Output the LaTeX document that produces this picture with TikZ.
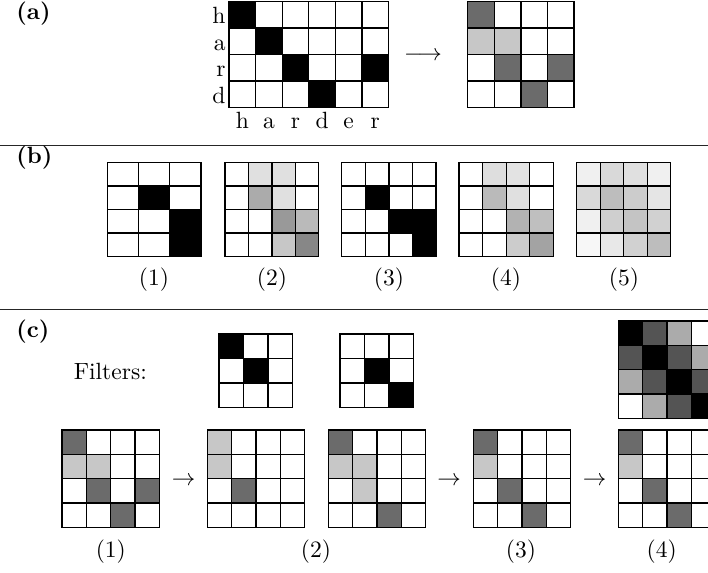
\documentclass[tikz,border=0pt]{standalone}
\colorlet{cw}{white}
\colorlet{cb}{black}
\colorlet{cd}{black!58}
\colorlet{cl}{black!22}
\newcommand\cellgrid[7]{%
  % #1 name, #2 x, #3 y, #4 ncols, #5 cell width, #6 cell height, #7 fills (row-major)
  \coordinate (#1) at (#2,#3);
  \foreach \cc [count=\ii from 0] in {#7} {%
    \pgfmathtruncatemacro\rr{div(\ii,#4)}%
    \pgfmathtruncatemacro\kk{mod(\ii,#4)}%
    \path[cellline, fill=\cc] ({#2+\kk*#5},{#3+\rr*#6}) rectangle ++(#5,#6);
  }%
}
\begin{document}
\begin{tikzpicture}[x=0.4255pt,y=-0.4255pt,
  every node/.style={font=\fontsize{10}{12}\selectfont, inner sep=0pt},
  cellline/.style={draw=black, line width=0.55pt},
  rule/.style={draw=black!85, line width=0.42pt},
  panel/.style={font=\fontsize{10}{12}\selectfont\bfseries, anchor=west}]
\useasboundingbox (0,0) rectangle (708,572);
\clip (0,0) rectangle (708,572);

% ---------------- (a)
\node[panel] (pa) at (16,13.5) {(a)};
\cellgrid{ga}{229}{1.3}{6}{26.6}{26.6}{cb,cw,cw,cw,cw,cw, cw,cb,cw,cw,cw,cw, cw,cw,cb,cw,cw,cb, cw,cw,cw,cb,cw,cw}
\foreach \t [count=\i from 0] in {h,a,r,d}
  \node[anchor=base east] (rl\i) at (226,{1.3+(\i+0.5)*26.6+9}) {\t};
\foreach \t [count=\i from 0] in {h,a,r,d,e,r}
  \node[anchor=base] (cl\i) at ({229+(\i+0.5)*26.6},128.3) {\t};
\node[anchor=base] (arra) at (423,60.9) {$\longrightarrow$};
\cellgrid{gb}{467.7}{1.3}{4}{26.6}{26.6}{cd,cw,cw,cw, cl,cl,cw,cw, cw,cd,cw,cd, cw,cw,cd,cw}

\draw[rule] (0,145.5) -- (708,145.5);

% ---------------- (b)
\node[panel] (pb) at (16,158) {(b)};
\cellgrid{b1}{107.3}{162.3}{3}{31.23}{23.6}{cw,cw,cw, cw,cb,cw, cw,cw,cb, cw,cw,cb}
\cellgrid{b2}{225}{162.3}{4}{23.45}{23.6}{cw,black!12,black!12,cw, cw,black!33,black!12,cw, cw,cw,black!40,black!27, cw,cw,black!22,black!47}
\cellgrid{b3}{341.7}{162.3}{4}{23.6}{23.6}{cw,cw,cw,cw, cw,cb,cw,cw, cw,cw,cb,cb, cw,cw,cw,cb}
\cellgrid{b4}{459}{162.3}{4}{23.6}{23.6}{cw,black!13,black!11,cw, cw,black!27,black!12,cw, cw,cw,black!30,black!25, cw,cw,black!20,black!36}
\cellgrid{b5}{576.7}{162.3}{4}{23.5}{23.6}{black!6,black!15,black!12,black!6, black!15,black!26,black!20,black!10, black!6,black!19,black!23,black!18, black!3,black!9,black!18,black!26}
\node (lb1) at (154,279.5) {(1)};
\node (lb2) at (272,279.5) {(2)};
\node (lb3) at (389,279.5) {(3)};
\node (lb4) at (506,279.5) {(4)};
\node (lb5) at (624,279.5) {(5)};

\draw[rule] (0,309) -- (708,309);

% ---------------- (c)
\node[panel] (pc) at (16,332) {(c)};
\node[anchor=base] (filt) at (110.3,379.3) {Filters:};
\cellgrid{f1}{219}{334}{3}{24.5}{24.5}{cb,cw,cw, cw,cb,cw, cw,cw,cw}
\cellgrid{f2}{340}{334}{3}{24.5}{24.5}{cw,cw,cw, cw,cb,cw, cw,cw,cb}
\cellgrid{big}{618.3}{321}{4}{24.3}{24.3}{cb,black!67,black!33,cw, black!67,cb,black!67,black!33, black!33,black!67,cb,black!67, cw,black!33,black!67,cb}

\cellgrid{c1}{62}{430}{4}{24.35}{24.35}{cd,cw,cw,cw, cl,cl,cw,cw, cw,cd,cw,cd, cw,cw,cd,cw}
\node[anchor=base] (ar1) at (183.5,485.9) {$\rightarrow$};
\cellgrid{c2a}{207.3}{430}{4}{24.35}{24.35}{cl,cw,cw,cw, cl,cw,cw,cw, cw,cd,cw,cw, cw,cw,cw,cw}
\cellgrid{c2b}{328.3}{430}{4}{24.35}{24.35}{cd,cw,cw,cw, cl,cl,cw,cw, cw,cl,cw,cw, cw,cw,cd,cw}
\node[anchor=base] (ar2) at (449,485.9) {$\rightarrow$};
\cellgrid{c3}{473.3}{430}{4}{24.35}{24.35}{cd,cw,cw,cw, cl,cw,cw,cw, cw,cd,cw,cw, cw,cw,cd,cw}
\node[anchor=base] (ar3) at (594.5,485.9) {$\rightarrow$};
\cellgrid{c4}{618.3}{430}{4}{24.35}{24.35}{cd,cw,cw,cw, cl,cw,cw,cw, cw,cd,cw,cw, cw,cw,cd,cw}

\node (lc1) at (110.8,551.7) {(1)};
\node (lc2) at (316,551.7) {(2)};
\node (lc3) at (521,551.7) {(3)};
\node (lc4) at (661.7,551.7) {(4)};
\end{tikzpicture}
\end{document}
